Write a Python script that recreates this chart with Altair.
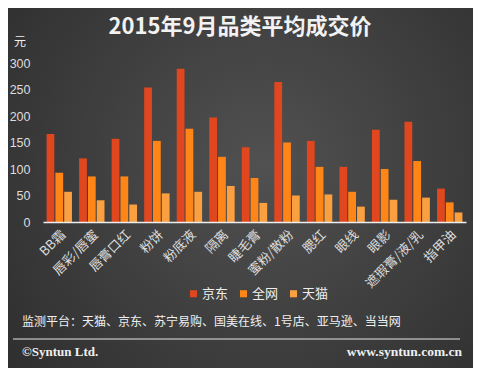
import altair as alt
import pandas as pd

categories = ["BB霜", "唇彩/唇蜜", "唇膏口红", "粉饼", "粉底液", "隔离", "睫毛膏",
              "蜜粉/散粉", "腮红", "眼线", "眼影", "遮瑕膏/液/乳", "指甲油"]
jd = [166, 120, 157, 254, 289, 197, 141, 264, 153, 104, 174, 189, 63]
qw = [93, 86, 86, 153, 176, 123, 83, 150, 104, 57, 100, 115, 37]
tm = [57, 41, 33, 54, 57, 68, 36, 50, 52, 29, 42, 46, 18]
series = ["京东", "全网", "天猫"]
colors = ["#E0471F", "#FF8516", "#FBA040"]
y_ticks = [0, 50, 100, 150, 200, 250, 300]

rows = []
for i, c in enumerate(categories):
    for s, vals in zip(series, [jd, qw, tm]):
        rows.append({"品类": c, "平台": s, "价格": vals[i]})
df = pd.DataFrame(rows)

FONT = "Noto Sans CJK SC"

bg = alt.Chart(pd.DataFrame({"a": [0]})).mark_rect(
    fill=alt.RadialGradient(
        gradient="radial",
        stops=[alt.GradientStop(color="#515151", offset=0),
               alt.GradientStop(color="#2c2c2c", offset=1)],
        x1=0.55, y1=0.45, r1=0, x2=0.55, y2=0.45, r2=0.75,
    )
).encode(x=alt.value(-35), x2=alt.value(430), y=alt.value(-55), y2=alt.value(305))

bars = alt.Chart(df).mark_bar().encode(
    x=alt.X("品类:N", sort=categories,
            scale=alt.Scale(paddingInner=0.22, paddingOuter=0.11),
            axis=alt.Axis(title=None, labelAngle=-45, labelColor="#dddddd",
                          labelFontSize=13, labelFont=FONT, ticks=False,
                          domainColor="#eeeeee", domainWidth=1.5, labelPadding=6,
                          zindex=1)),
    xOffset=alt.XOffset("平台:N", sort=series, scale=alt.Scale(paddingInner=0.12)),
    y=alt.Y("价格:Q", scale=alt.Scale(domain=[0, 300]),
            axis=alt.Axis(title=None, values=y_ticks, labelColor="#dddddd",
                          labelFontSize=12.5, labelFont="Liberation Sans",
                          domain=False, ticks=False, grid=False, labelPadding=13,
                          zindex=1)),
    color=alt.Color("平台:N", sort=series,
                    scale=alt.Scale(domain=series, range=colors),
                    legend=alt.Legend(title=None, orient="none", legendX=144, legendY=224,
                                      direction="horizontal", symbolType="square",
                                      symbolSize=50, symbolStrokeWidth=0,
                                      labelColor="#eeeeee", labelFontSize=13,
                                      labelFont=FONT, columnPadding=8, labelOffset=2,
                                      padding=0, zindex=1)),
)

def txt(text, x, y, size, color="#f0f0f0", align="left", weight="normal", font=FONT):
    return alt.Chart(pd.DataFrame({"t": [text]})).mark_text(
        align=align, baseline="middle", fontSize=size, color=color,
        fontWeight=weight, font=font
    ).encode(text="t:N", x=alt.value(x), y=alt.value(y))

title = txt("2015年9月品类平均成交价", 197, -36, 22, color="#f2f2f2",
            align="center", weight="bold")
unit = txt("元", -23, -21, 12, align="center")
footer = txt("监测平台：天猫、京东、苏宁易购、国美在线、1号店、亚马逊、当当网", -21, 259, 12)
rule = alt.Chart(pd.DataFrame({"a": [0]})).mark_rule(color="#e6e6e6", strokeWidth=1).encode(
    x=alt.value(-30), x2=alt.value(417), y=alt.value(276))
copy = txt("©Syntun Ltd.", -21, 289, 13, weight="bold", font="Liberation Serif")
www = txt("www.syntun.com.cn", 419, 289, 13.5, align="right", weight="bold",
          font="Liberation Serif")

chart = alt.layer(bg, bars, title, unit, footer, rule, copy, www).properties(
    width=423, height=159,
    padding={"left": 35, "top": 55, "right": 7, "bottom": 146},
    autosize=alt.AutoSizeParams(type="none"),
).configure(background="#333333").configure_view(stroke=None)

chart.save("out.html", embed_options={"renderer": "svg", "actions": False})
